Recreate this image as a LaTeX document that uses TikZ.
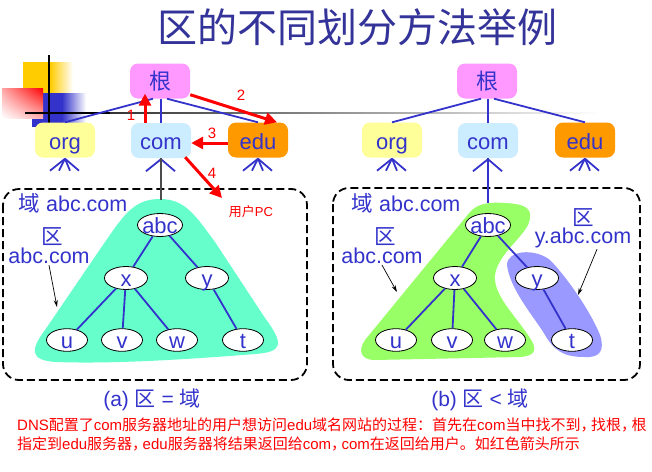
\documentclass[tikz,border=0pt]{standalone}
\usepackage{fontspec}
\setmainfont{Liberation Sans}
\newfontfamily\cjk{Noto Sans CJK SC}
\usetikzlibrary{shapes.geometric,arrows.meta,shadings}
\definecolor{ink}{HTML}{3333CC}
\definecolor{titleblue}{HTML}{333399}
\definecolor{rootpink}{HTML}{FF99FF}
\definecolor{orgyellow}{HTML}{FFFF99}
\definecolor{comblue}{HTML}{CCECFF}
\definecolor{eduorange}{HTML}{FF9900}
\definecolor{zonecyan}{HTML}{66FFCC}
\definecolor{zonegreen}{HTML}{99FF66}
\definecolor{zoneviolet}{HTML}{9999FF}
\definecolor{decoyellow}{HTML}{FFCC00}
\newcommand\fsz[1]{\fontsize{#1}{#1}\selectfont}
\newcommand\ctxt[1]{\makebox[0pt]{#1}}
\newcommand\cm{\makebox[0.7em][l]{，}}
\begin{document}
\begin{tikzpicture}[x=1pt,y=-1pt,
  topbox/.style={rounded corners=8pt, minimum width=60pt, minimum height=35pt,
    inner sep=0pt, text=ink, font=\fsz{22}},
  latinbox/.style={topbox, text height=18pt, text depth=0pt},
  treenode/.style={ellipse, draw=black, line width=0.8pt, fill=white,
    minimum width=43pt, minimum height=23pt, inner sep=0pt, text=ink, font=\fsz{22},
    text height=16pt, text depth=0pt},
  treeedge/.style={ink, line width=1.8pt},
  fan/.style={ink, line width=1.8pt},
  hop/.style={red, line width=3pt, -{Triangle[length=12pt,width=12pt]}},
  hoplabel/.style={text=red, font=\fsz{15}, inner sep=0pt},
  pointer/.style={black, line width=0.7pt, -{Stealth[length=7pt,width=4pt]}},
  domainbox/.style={black, line width=1.8pt, dash pattern=on 8pt off 4pt, rounded corners=16pt},
  lab/.style={text=ink, inner sep=0pt, font=\fsz{21.5}},
  caption/.style={text=ink, inner sep=0pt, font=\fsz{21}},
  note/.style={text=red, inner sep=0pt, anchor=west, font=\fsz{15}}
]
\useasboundingbox (0,0) rectangle (652,471);

% corner ornament
\fill[decoyellow] (23,62) rectangle (50,113);
\shade[left color=decoyellow, right color=white] (50,62) rectangle (73,113);
\fill[ink] (32,93) rectangle (62,127);
\shade[left color=ink, right color=white] (62,93) rectangle (86,127);
\shade[upper left=red!35, upper right=red, lower left=white, lower right=red!30] (2,88) rectangle (43,118);
\fill[black] (25,112.3) rectangle (110,113.8);
\shade[left color=black!80, right color=white] (110,112.3) rectangle (600,113.8);
\draw[black, line width=1.5pt] (49,55) -- (49,124);

% title
\node[inner sep=0pt, text=titleblue, font=\fsz{40}\cjk] (title) at (357,27) {区的不同划分方法举例};

% domain boxes
\draw[domainbox] (3,189) rectangle (307,380);
\draw[domainbox] (333,188) rectangle (640,380);

% zones
\fill[zonecyan] (160,199) .. controls (185,199) and (195,215) .. (215,242)
  -- (265,318) .. controls (285,345) and (282,352) .. (255,354)
  .. controls (180,360) and (110,364) .. (55,362)
  .. controls (30,360) and (30,350) .. (45,330)
  -- (105,242) .. controls (125,213) and (135,199) .. (160,199) -- cycle;
\fill[zonegreen] (470,212) .. controls (478,203) and (490,202) .. (505,203)
  .. controls (525,204) and (535,208) .. (528,225)
  .. controls (520,240) and (498,255) .. (495,275)
  .. controls (493,295) and (515,315) .. (530,338)
  .. controls (538,350) and (535,356) .. (520,357)
  -- (375,360) .. controls (360,360) and (358,350) .. (365,340)
  -- (470,212) -- cycle;
\fill[zoneviolet] (507,265) .. controls (507,250) and (535,248) .. (550,260)
  .. controls (565,275) and (590,310) .. (600,335)
  .. controls (605,350) and (600,358) .. (585,357)
  .. controls (565,357) and (555,352) .. (545,335)
  .. controls (535,318) and (510,290) .. (507,265) -- cycle;

% top level of the name tree, left
\node[topbox, fill=rootpink] (rootL) at (160,81) {\cjk 根};
\node[latinbox, fill=orgyellow] (orgL) at (65,140) {org};
\node[latinbox, fill=comblue] (comL) at (161,140.5) {com};
\node[latinbox, fill=eduorange] (eduL) at (258,140) {edu};
% top level of the name tree, right
\node[topbox, fill=rootpink] (rootR) at (487,81) {\cjk 根};
\node[latinbox, fill=orgyellow] (orgR) at (392,140) {org};
\node[latinbox, fill=comblue] (comR) at (488,140.5) {com};
\node[latinbox, fill=eduorange] (eduR) at (585,140) {edu};

\draw[treeedge] ([xshift=-7pt]rootL.south) -- (orgL.north);
\draw[treeedge] ([xshift=1pt]rootL.south) -- ([xshift=0pt]comL.north);
\draw[treeedge] ([xshift=7pt]rootL.south) -- (eduL.north);
\draw[treeedge] ([xshift=-6pt]rootR.south) -- (orgR.north);
\draw[treeedge] ([xshift=1pt]rootR.south) -- (comR.north);
\draw[treeedge] ([xshift=7pt]rootR.south) -- (eduR.north);

% sub-branches below the top level
\foreach \n in {orgL,eduL,orgR,eduR}
  \foreach \dx in {-15,-6,5,14}
    \draw[fan] ([yshift=-1pt]\n.south) -- ++(\dx,12);
\foreach \n in {comL,comR}
  \foreach \dx in {-15,14}
    \draw[fan] ([yshift=-1pt]\n.south) -- ++(\dx,12);

% subtree abc.com
\coordinate (apexL) at (161,200);
\coordinate (apexR) at (488,203);
\draw[black!70, line width=1.2pt] (comL.south) -- (apexL);
\draw[treeedge] (comR.south) -- (apexR);

\node[treenode, minimum width=45pt] (abcL) at (160,225) {\ctxt{abc}};
\node[treenode] (xL) at (126,278) {\ctxt{x}};
\node[treenode] (yL) at (207,278) {\ctxt{y}};
\node[treenode, minimum width=41pt, minimum height=21pt] (uL) at (67,340) {\ctxt{u}};
\node[treenode, minimum width=41pt, minimum height=21pt] (vL) at (122,340) {\ctxt{v}};
\node[treenode, minimum width=41pt, minimum height=21pt] (wL) at (177,340) {\ctxt{w}};
\node[treenode, minimum width=41pt, minimum height=21pt] (tL) at (243,340) {\ctxt{t}};

\node[treenode, minimum width=45pt] (abcR) at (488,225) {\ctxt{abc}};
\node[treenode] (xR) at (455,278) {\ctxt{x}};
\node[treenode] (yR) at (537,278) {\ctxt{y}};
\node[treenode, minimum width=41pt, minimum height=21pt] (uR) at (396,340) {\ctxt{u}};
\node[treenode, minimum width=41pt, minimum height=21pt] (vR) at (452,340) {\ctxt{v}};
\node[treenode, minimum width=41pt, minimum height=21pt] (wR) at (505,340) {\ctxt{w}};
\node[treenode, minimum width=41pt, minimum height=21pt] (tR) at (572,340) {\ctxt{t}};

\foreach \s in {L,R} {
  \draw[treeedge] (abc\s) -- (x\s);
  \draw[treeedge] (abc\s) -- (y\s);
  \draw[treeedge] (x\s) -- (u\s);
  \draw[treeedge] (x\s) -- (v\s);
  \draw[treeedge] (x\s) -- (w\s);
  \draw[treeedge] (y\s) -- (t\s);
}

% labels inside the domain boxes
\node[lab] (domL) at (73,203) {{\cjk 域} abc.com};
\node[lab] (zoneL) at (52,237) {\cjk 区};
\node[lab] (zoneLname) at (49,256) {abc.com};
\coordinate (zoneLtip) at (57,307);
\draw[pointer] ([yshift=-1pt]zoneLname.south) -- (zoneLtip);

\node[lab] (domR) at (406,203) {{\cjk 域} abc.com};
\node[lab] (zoneR) at (385,237) {\cjk 区};
\node[lab] (zoneRname) at (382,256) {abc.com};
\coordinate (zoneRtip) at (397,292);
\draw[pointer] ([yshift=-1pt]zoneRname.south) -- (zoneRtip);

\node[lab] (zoneY) at (583,218) {\cjk 区};
\node[lab] (zoneYname) at (583,238) {y.abc.com};
\coordinate (zoneYtip) at (578,295);
\draw[pointer] ([xshift=14pt,yshift=-1pt]zoneYname.south) -- (zoneYtip);

% query path
\node[inner sep=0pt, text=red, font=\fsz{13}] (pc) at (251,212) {{\cjk 用户}PC};
\coordinate (pcTip) at (222,198);
\draw[hop] ([xshift=-16pt]comL.north) -- ([xshift=-15pt,yshift=5pt]rootL.south);
\draw[hop] ([yshift=4pt]rootL.south east) -- ([xshift=19pt]eduL.north);
\draw[hop] ([yshift=-3pt]eduL.west) -- ([yshift=-2.5pt]comL.east);
\draw[hop] ([xshift=-6pt,yshift=1pt]comL.south east) -- (pcTip);
\node[hoplabel] (n1) at (131,115) {1};
\node[hoplabel] (n2) at (241,95) {2};
\node[hoplabel] (n3) at (212,133) {3};
\node[hoplabel] (n4) at (212,173) {4};

% captions
\node[caption] (capA) at (152,400) {(a) {\cjk 区} = {\cjk 域}};
\node[caption] (capB) at (480,400) {(b) {\cjk 区} < {\cjk 域}};

% explanatory note
\node[note] (line1) at (17,425) {DNS{\cjk 配置了}com{\cjk 服务器地址的用户想访问}edu{\cjk 域名网站的过程：首先在}com{\cjk 当中找不到\cm 找根\cm 根}};
\node[note] (line2) at (17,444) {{\cjk 指定到}edu{\cjk 服务器\cm}edu{\cjk 服务器将结果返回给}com{\cjk \cm}com{\cjk 在返回给用户。如红色箭头所示}};
\end{tikzpicture}
\end{document}
